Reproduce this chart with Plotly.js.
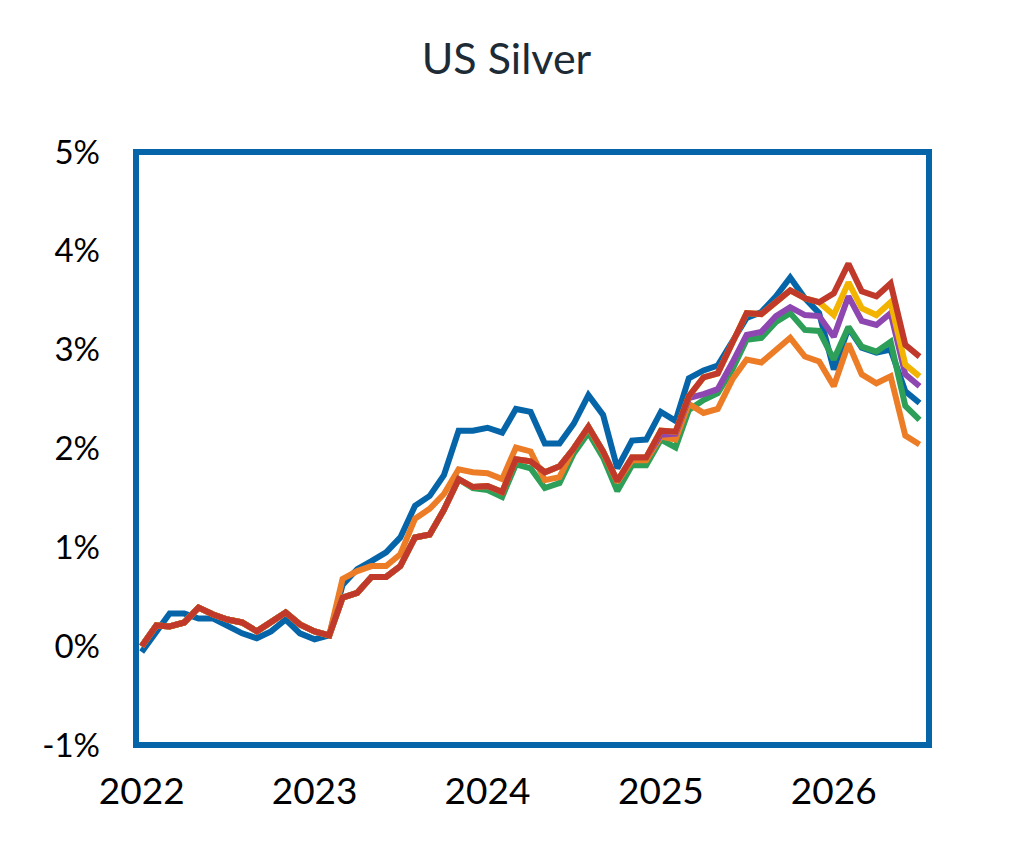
<!DOCTYPE html>
<html>
<head>
<meta charset="utf-8">
<script src="https://cdn.plot.ly/plotly-3.0.1.min.js"></script>
<style>html,body{margin:0;padding:0;background:#fff;}#chart{width:1013px;height:845px;}</style>
</head>
<body>
<div id="chart"></div>
<script>
// Monthly dates Jan 2022 .. Jul 2026
const months = [];
for (let y = 2022; y <= 2026; y++) {
  for (let m = 1; m <= 12; m++) {
    if (y === 2026 && m > 7) break;
    months.push(y + '-' + String(m).padStart(2, '0') + '-01');
  }
}

const blue = [-0.06,0.15,0.33,0.33,0.28,0.28,0.21,0.13,0.08,0.15,0.27,0.13,0.07,0.11,
  0.62,0.78,0.86,0.95,1.10,1.42,1.52,1.73,2.18,2.18,2.21,2.16,2.40,2.37,2.05,2.05,
  2.25,2.54,2.34,1.80,2.08,2.09,2.37,2.28,2.71,2.79,2.84,3.09,3.32,3.38,3.54,3.73,
  3.52,3.37,2.80,3.22,3.02,2.97,3.00,2.58,2.46];

const red = [0.00,0.21,0.20,0.24,0.39,0.32,0.27,0.24,0.15,0.24,0.34,0.22,0.15,0.11,
  0.49,0.54,0.70,0.70,0.81,1.10,1.13,1.38,1.69,1.61,1.62,1.56,1.89,1.87,1.76,1.82,
  2.00,2.22,1.97,1.67,1.91,1.91,2.18,2.17,2.53,2.72,2.76,3.07,3.37,3.36,3.49,3.60,
  3.52,3.48,3.57,3.87,3.59,3.54,3.67,3.05,2.93];

const green = [0.00,0.21,0.20,0.24,0.39,0.32,0.27,0.24,0.15,0.24,0.34,0.22,0.15,0.11,
  0.49,0.54,0.70,0.70,0.81,1.10,1.13,1.38,1.69,1.60,1.58,1.51,1.84,1.80,1.60,1.65,
  1.95,2.16,1.91,1.57,1.83,1.83,2.09,2.01,2.39,2.49,2.56,2.80,3.10,3.12,3.28,3.37,
  3.20,3.19,2.90,3.23,3.03,2.98,3.08,2.43,2.29];

const orange = [0.00,0.21,0.20,0.24,0.39,0.32,0.27,0.24,0.15,0.24,0.34,0.22,0.15,0.11,
  0.68,0.76,0.81,0.81,0.93,1.29,1.39,1.54,1.79,1.76,1.75,1.69,2.01,1.97,1.68,1.71,
  2.00,2.21,1.96,1.66,1.88,1.88,2.12,2.09,2.45,2.36,2.40,2.70,2.90,2.87,3.00,3.12,
  2.93,2.88,2.63,3.06,2.75,2.66,2.73,2.13,2.04];

const purple = [0.00,0.21,0.20,0.24,0.39,0.32,0.27,0.24,0.15,0.24,0.34,0.22,0.15,0.11,
  0.49,0.54,0.70,0.70,0.81,1.10,1.13,1.38,1.69,1.61,1.62,1.56,1.89,1.87,1.76,1.82,
  2.00,2.22,1.97,1.67,1.91,1.91,2.14,2.15,2.51,2.55,2.60,2.87,3.15,3.18,3.34,3.43,
  3.35,3.34,3.13,3.54,3.29,3.25,3.37,2.75,2.63];

const yellow = [0.00,0.21,0.20,0.24,0.39,0.32,0.27,0.24,0.15,0.24,0.34,0.22,0.15,0.11,
  0.49,0.54,0.70,0.70,0.81,1.10,1.13,1.38,1.69,1.61,1.62,1.56,1.89,1.87,1.76,1.82,
  2.00,2.22,1.97,1.67,1.91,1.91,2.18,2.17,2.53,2.72,2.76,3.07,3.37,3.36,3.49,3.60,
  3.52,3.48,3.35,3.68,3.42,3.35,3.48,2.85,2.73];

const xTickVals = ['2022-01-01','2023-01-01','2024-01-01','2025-01-01','2026-01-01'];
const xTickText = ['2022','2023','2024','2025','2026'];
const yTickVals = [-1,0,1,2,3,4,5];
const yTickText = ['-1%','0%','1%','2%','3%','4%','5%'];

const BLUE = '#0565a8';
const series = [
  {y: blue,   color: BLUE},
  {y: green,  color: '#2e9f58'},
  {y: orange, color: '#ec7c26'},
  {y: purple, color: '#8e47b0'},
  {y: yellow, color: '#f2b400'},
  {y: red,    color: '#c0392b'}
];

const traces = series.map(s => ({
  x: months, y: s.y, type: 'scatter', mode: 'lines',
  line: {color: s.color, width: 6},
  hoverinfo: 'skip', showlegend: false
}));

const layout = {
  width: 1013, height: 845,
  margin: {l: 136, r: 84, t: 152, b: 100, pad: 0},
  paper_bgcolor: '#ffffff', plot_bgcolor: '#ffffff',
  showlegend: false,
  title: {
    text: 'US Silver', x: 0.5, xref: 'container', xanchor: 'center',
    y: 0.93, yref: 'container', yanchor: 'middle',
    font: {family: 'Lato, sans-serif', size: 43, color: '#1c2b36'}
  },
  xaxis: {
    type: 'date', range: ['2021-12-20', '2026-07-21'],
    tickvals: xTickVals, ticktext: xTickText,
    showgrid: false, zeroline: false, showline: false, ticks: '',
    ticklabelstandoff: 21,
    tickfont: {family: 'Lato, sans-serif', size: 37, color: '#000000'}
  },
  yaxis: {
    range: [-1, 5], tickvals: yTickVals, ticktext: yTickText,
    showgrid: false, zeroline: false, showline: false, ticks: '',
    ticklabelstandoff: 35,
    tickfont: {family: 'Lato, sans-serif', size: 33, color: '#000000'}
  },
  shapes: [{
    type: 'rect', xref: 'paper', yref: 'paper', x0: 0, x1: 1, y0: 0, y1: 1,
    line: {color: BLUE, width: 6}, fillcolor: 'rgba(0,0,0,0)', layer: 'above'
  }]
};

Plotly.newPlot('chart', traces, layout, {displayModeBar: false, staticPlot: true});
</script>
</body>
</html>
